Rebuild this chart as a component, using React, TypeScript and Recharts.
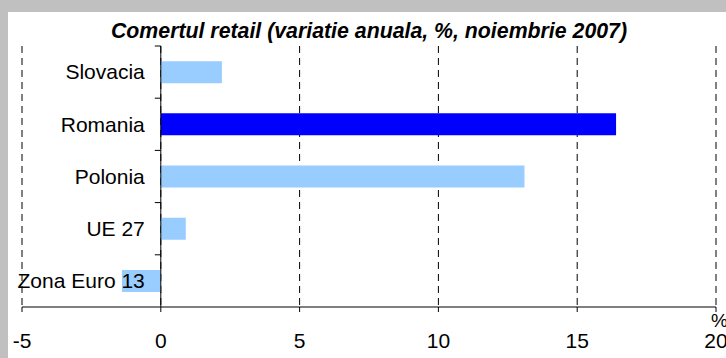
import React from 'react'
import { BarChart, Bar, XAxis, YAxis, CartesianGrid, ReferenceLine, Cell, Label } from 'recharts'

const categories = ['Slovacia', 'Romania', 'Polonia', 'UE 27', 'Zona Euro 13']
const values = [2.2, 16.4, 13.1, 0.9, -1.4]
const highlight = ['Romania']
const xTicks = [-5, 0, 5, 10, 15, 20]

const data = categories.map((name, i) => ({ name, value: values[i] }))

const W = 726
const H = 358
const Y_AXIS_W = 2
const MARGIN = { top: 46, right: 10, bottom: 21, left: 22 - Y_AXIS_W }
const X_AXIS_H = 30
const PLOT_LEFT = MARGIN.left + Y_AXIS_W
const PLOT_W = W - PLOT_LEFT - MARGIN.right
const PLOT_H = H - MARGIN.top - MARGIN.bottom - X_AXIS_H
const X_MIN = -5
const X_MAX = 20
const ZERO_X = PLOT_LEFT + (PLOT_W * (0 - X_MIN)) / (X_MAX - X_MIN)
const BAND = PLOT_H / categories.length
const FONT = '"Liberation Sans", Arial, sans-serif'

// category label sits just left of the zero axis, with a tick mark at the band's top edge
function CategoryTick(props: any) {
  const { y, payload } = props
  return (
    <g>
      <line x1={ZERO_X - 6} x2={ZERO_X} y1={y - BAND / 2} y2={y - BAND / 2} stroke="#000" />
      <text x={ZERO_X - 16} y={y} dy="0.35em" textAnchor="end" fontSize={21} fill="#000" fontFamily={FONT}>
        {payload.value}
      </text>
    </g>
  )
}

function PercentLabel(props: any) {
  const vb = props.viewBox
  return (
    <text x={vb.x + vb.width - 5} y={vb.y + 20} fontSize={19} fill="#000" fontFamily={FONT}>
      %
    </text>
  )
}

export default function App() {
  return (
    <div style={{ position: 'absolute', left: 0, top: 0, width: W, height: H, background: '#c0c0c0', overflow: 'hidden' }}>
      <div style={{ position: 'absolute', left: 8, top: 12, width: W - 8, height: H - 12, background: '#fff' }} />
      <div
        style={{
          position: 'absolute',
          left: PLOT_LEFT,
          width: PLOT_W,
          top: 19,
          textAlign: 'center',
          fontFamily: FONT,
          fontSize: 21.3,
          fontWeight: 'bold',
          fontStyle: 'italic',
          color: '#000',
          lineHeight: 'normal',
          whiteSpace: 'nowrap',
        }}
      >
        Comertul retail (variatie anuala, %, noiembrie 2007)
      </div>
      <div style={{ position: 'absolute', left: 0, top: 0 }}>
        <BarChart width={W} height={H} data={data} layout="vertical" margin={MARGIN} barCategoryGap="29%">
          <CartesianGrid horizontal={false} stroke="#000" strokeDasharray="7 5" />
          <XAxis
            type="number"
            domain={[X_MIN, X_MAX]}
            ticks={xTicks}
            height={X_AXIS_H}
            axisLine={{ stroke: '#000' }}
            tickLine={{ stroke: '#000' }}
            tickSize={5}
            tickMargin={21}
            tick={{ fill: '#000', fontSize: 21, fontFamily: FONT }}
            interval={0}
          >
            <Label content={<PercentLabel />} />
          </XAxis>
          <Bar dataKey="value" isAnimationActive={false}>
            {data.map((d) => (
              <Cell key={d.name} fill={highlight.includes(d.name) ? '#0000ff' : '#99ccff'} />
            ))}
          </Bar>
          <ReferenceLine x={0} stroke="#000" />
          <YAxis
            type="category"
            dataKey="name"
            width={Y_AXIS_W}
            axisLine={false}
            tickLine={false}
            tick={<CategoryTick />}
            interval={0}
          />
        </BarChart>
      </div>
    </div>
  )
}
